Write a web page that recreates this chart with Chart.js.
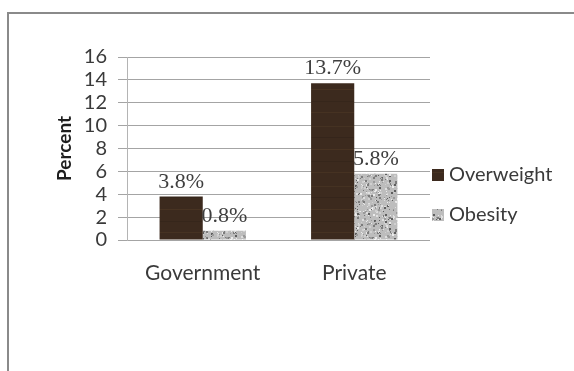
<!DOCTYPE html>
<html>
<head>
<meta charset="utf-8">
<script src="https://cdn.jsdelivr.net/npm/chart.js@4.4.1/dist/chart.umd.min.js"></script>
<style>
  html, body { margin: 0; padding: 0; background: #fff; }
  #wrap { position: relative; width: 574px; height: 371px; overflow: hidden; }
  #frame { position: absolute; left: 7px; top: 12px; width: 700px; height: 500px;
           border-left: 2px solid #8a8a8a; border-top: 2px solid #8a8a8a; }
  #c { position: absolute; left: 0; top: 0; }
</style>
</head>
<body>
<div id="wrap">
  <div id="frame"></div>
  <canvas id="c" width="574" height="371"></canvas>
</div>
<script>
// --- data ---
const categories = ['Government', 'Private'];
const seriesNames = ['Overweight', 'Obesity'];
const overweight = [3.8, 13.7];
const obesity = [0.8, 5.8];
const yMin = 0, yMax = 16, yStep = 2;

// textures (style only): dark wood for overweight, grey granite for obesity
function woodPattern() {
  const cv = document.createElement('canvas');
  cv.width = 40; cv.height = 60;
  const g = cv.getContext('2d');
  g.fillStyle = '#3c2a1e';
  g.fillRect(0, 0, 40, 60);
  const streaks = [[6, '#453222'], [17, '#35251b'], [29, '#483322'], [41, '#36261b'], [52, '#463222']];
  streaks.forEach(([y, c]) => { g.fillStyle = c; g.fillRect(0, y, 40, 1); });
  return g.createPattern(cv, 'repeat');
}

function granitePattern() {
  const cv = document.createElement('canvas');
  cv.width = 48; cv.height = 48;
  const g = cv.getContext('2d');
  g.fillStyle = '#bdbdbd';
  g.fillRect(0, 0, 48, 48);
  let s = 12345;
  const next = () => { s = (s * 1103515245 + 12345) & 0x7fffffff; return s / 0x7fffffff; };
  const tones = ['#5e5e5e', '#7c7c7c', '#dedede', '#9a9a9a', '#ebebeb', '#d0d0d0'];
  for (let i = 0; i < 320; i++) {
    g.fillStyle = tones[Math.floor(next() * tones.length)];
    const sz = next() < 0.6 ? 1 : 2;
    g.fillRect(Math.floor(next() * 48), Math.floor(next() * 48), sz, sz);
  }
  return g.createPattern(cv, 'repeat');
}

const fills = [woodPattern(), granitePattern()];

// value labels above each bar
const valueLabels = {
  id: 'valueLabels',
  afterDatasetsDraw(chart) {
    const ctx = chart.ctx;
    ctx.save();
    ctx.font = '22px "Liberation Serif", "DejaVu Serif", serif';
    ctx.fillStyle = '#3f3f3f';
    ctx.textAlign = 'center';
    ctx.textBaseline = 'alphabetic';
    chart.data.datasets.forEach((ds, i) => {
      chart.getDatasetMeta(i).data.forEach((el, j) => {
        ctx.fillText(ds.data[j].toFixed(1) + '%', el.x, el.y - 9);
      });
    });
    ctx.restore();
  }
};

// legend on the right, to the side of the plot
const sideLegend = {
  id: 'sideLegend',
  afterDraw(chart) {
    const ctx = chart.ctx;
    const x = chart.chartArea.right + 2;
    const rows = [175, 215];
    ctx.save();
    ctx.font = '20px Lato, "Open Sans", sans-serif';
    ctx.textBaseline = 'middle';
    ctx.textAlign = 'left';
    chart.data.datasets.forEach((ds, i) => {
      ctx.fillStyle = ds.backgroundColor;
      ctx.fillRect(x, rows[i] - 6, 12, 12);
      ctx.fillStyle = '#3a3a3a';
      ctx.fillText(ds.label, x + 17, rows[i]);
    });
    ctx.restore();
  }
};

new Chart(document.getElementById('c'), {
  type: 'bar',
  data: {
    labels: categories,
    datasets: [
      { label: seriesNames[0], data: overweight, backgroundColor: fills[0] },
      { label: seriesNames[1], data: obesity, backgroundColor: fills[1] }
    ]
  },
  options: {
    responsive: false,
    devicePixelRatio: 1,
    animation: false,
    categoryPercentage: 0.57,
    barPercentage: 1.0,
    layout: { padding: { top: 57, right: 144, bottom: 0, left: 0 } },
    plugins: { legend: { display: false }, tooltip: { enabled: false } },
    scales: {
      x: {
        grid: { display: false },
        border: { display: false },
        ticks: { color: '#3a3a3a', padding: 13, font: { family: 'Lato', size: 21 } },
        afterFit(s) { s.height = 131; }
      },
      y: {
        min: yMin, max: yMax,
        ticks: { stepSize: yStep, autoSkip: false, color: '#3a3a3a', padding: 11,
                 font: { family: 'Lato', size: 20 } },
        grid: { color: '#a4a4a4', lineWidth: 1, tickLength: 9 },
        border: { display: true, color: '#b4b4b4' },
        title: { display: true, text: 'Percent', color: '#1e1e1e',
                 padding: { top: 53, bottom: 0 },
                 font: { family: 'Lato', size: 19, weight: 'bold' } },
        afterFit(s) { s.width = 127; }
      }
    }
  },
  plugins: [valueLabels, sideLegend]
});
</script>
</body>
</html>
